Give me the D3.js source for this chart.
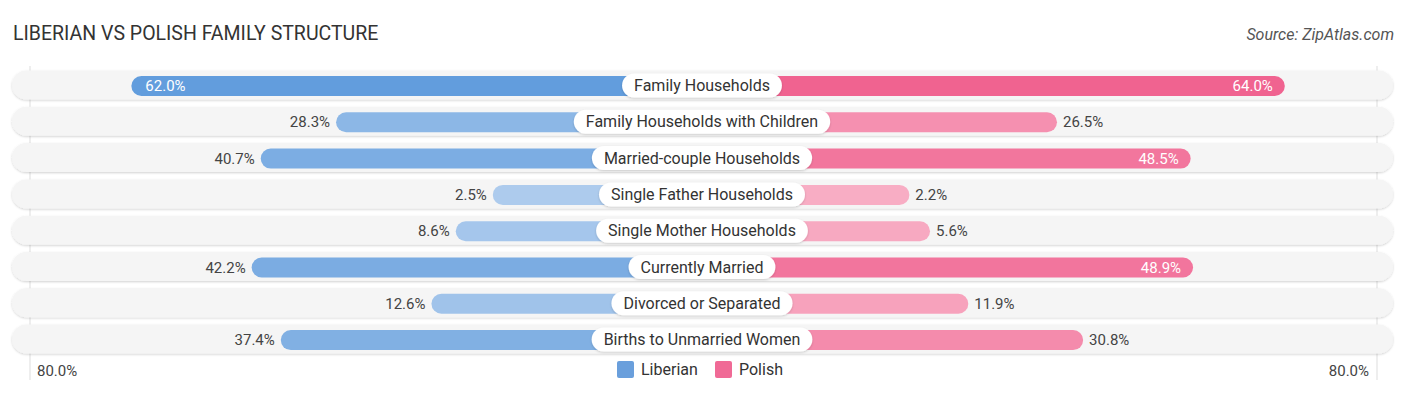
<!DOCTYPE html>
<meta charset="utf-8">
<html>
  <head>
    <style>
      body { margin: 0; background: #fff; font-family: Roboto, "Open Sans", sans-serif; }
      text.title { font-size: 19.5px; fill: #333; }
      text.source { font-size: 16px; fill: #555; font-style: italic; }
      text.val { font-size: 15px; fill: #444; }
      text.val.inside { fill: #fff; }
      text.cat { font-size: 16px; fill: #333; }
      text.axis { font-size: 15px; fill: #444; }
      text.legend { font-size: 16px; fill: #333; }
    </style>
    <script src="https://d3js.org/d3.v7.min.js"></script>
  </head>
  <body>
    <div id="chart"></div>
    <script type="text/javascript">
      var categories = ["Family Households", "Family Households with Children", "Married-couple Households",
                        "Single Father Households", "Single Mother Households", "Currently Married",
                        "Divorced or Separated", "Births to Unmarried Women"],
          liberian = [62.0, 28.3, 40.7, 2.5, 8.6, 42.2, 12.6, 37.4],
          polish = [64.0, 26.5, 48.5, 2.2, 5.6, 48.9, 11.9, 30.8],
          seriesNames = ["Liberian", "Polish"],
          axisMax = 80;

      var width = 1406, height = 395,
          center = 702,
          gap = 194,          // bars run under the label pill to the centre
          barH = 20,
          rowH = 36.3,
          firstRow = 85;

      var svg = d3.select("#chart").append("svg")
          .attr("width", width)
          .attr("height", height);

      var x = d3.scaleLinear().domain([0, axisMax]).range([0, 486]);
      var y = d3.scaleBand().domain(categories)
          .range([firstRow - rowH / 2, firstRow - rowH / 2 + rowH * categories.length]);

      var blue = d3.interpolateRgb("#b0cdee", "#5f9bdc"),
          pink = d3.interpolateRgb("#f8b0c6", "#f06390");

      svg.append("text").attr("class", "title")
          .attr("x", 13).attr("y", 40)
          .text("LIBERIAN VS POLISH FAMILY STRUCTURE");
      svg.append("text").attr("class", "source")
          .attr("x", 1394).attr("y", 40).attr("text-anchor", "end")
          .text("Source: ZipAtlas.com");

      // grid lines at the 80% marks
      [center - gap - x(axisMax) + 8, center + gap + x(axisMax) - 5].forEach(function (gx) {
        svg.append("line")
            .attr("x1", gx).attr("x2", gx)
            .attr("y1", 66).attr("y2", 380)
            .attr("stroke", "#ddd").attr("stroke-width", 1);
      });

      var defs = svg.append("defs");
      var shadow = defs.append("filter").attr("id", "shadow")
          .attr("x", "-5%").attr("y", "-30%").attr("width", "110%").attr("height", "170%");
      shadow.append("feDropShadow").attr("dx", 0).attr("dy", 1)
          .attr("stdDeviation", 1.2).attr("flood-color", "#000").attr("flood-opacity", 0.18);

      var rows = svg.selectAll(".row")
          .data(categories.map(function (c, i) { return { cat: c, l: liberian[i], p: polish[i] }; }))
          .enter().append("g")
            .attr("class", "row")
            .attr("transform", function (d) { return "translate(0," + (y(d.cat) + y.bandwidth() / 2) + ")"; });

      rows.append("rect")
          .attr("x", 12).attr("y", -14.5)
          .attr("width", 1381).attr("height", 29)
          .attr("rx", 14.5)
          .attr("fill", "#f5f5f5")
          .attr("filter", "url(#shadow)");

      var maxV = d3.max(liberian.concat(polish));

      rows.append("rect")
          .attr("x", function (d) { return center - gap - x(d.l); })
          .attr("y", -barH / 2 + 1)
          .attr("width", function (d) { return gap + x(d.l); })
          .attr("height", barH)
          .attr("rx", barH / 2)
          .attr("fill", function (d) { return blue(d.l / maxV); });

      rows.append("rect")
          .attr("x", center)
          .attr("y", -barH / 2 + 1)
          .attr("width", function (d) { return gap + x(d.p); })
          .attr("height", barH)
          .attr("rx", barH / 2)
          .attr("fill", function (d) { return pink(d.p / maxV); });

      var inside = function (v) { return v > 45; };

      rows.append("text")
          .attr("class", function (d) { return inside(d.l) ? "val inside" : "val"; })
          .attr("x", function (d) {
            var end = center - gap - x(d.l);
            return inside(d.l) ? end + 14 : end - 6;
          })
          .attr("y", 6)
          .attr("text-anchor", function (d) { return inside(d.l) ? "start" : "end"; })
          .text(function (d) { return d.l.toFixed(1) + "%"; });

      rows.append("text")
          .attr("class", function (d) { return inside(d.p) ? "val inside" : "val"; })
          .attr("x", function (d) {
            var end = center + gap + x(d.p);
            return inside(d.p) ? end - 12 : end + 6;
          })
          .attr("y", 6)
          .attr("text-anchor", function (d) { return inside(d.p) ? "end" : "start"; })
          .text(function (d) { return d.p.toFixed(1) + "%"; });

      // centre label pills
      rows.each(function (d) {
        var g = d3.select(this);
        var t = g.append("text").attr("class", "cat")
            .attr("x", center).attr("y", 6)
            .attr("text-anchor", "middle")
            .text(d.cat);
        var w = t.node().getComputedTextLength() + 24;
        g.insert("rect", "text.cat")
            .attr("x", center - w / 2).attr("y", -11.5)
            .attr("width", w).attr("height", 24)
            .attr("rx", 12)
            .attr("fill", "#fff")
            .attr("filter", "url(#shadow)");
      });

      // axis end labels
      svg.append("text").attr("class", "axis")
          .attr("x", 37).attr("y", 376)
          .text(axisMax.toFixed(1) + "%");
      svg.append("text").attr("class", "axis")
          .attr("x", 1369).attr("y", 376).attr("text-anchor", "end")
          .text(axisMax.toFixed(1) + "%");

      // legend
      var legend = svg.selectAll(".legend")
          .data(seriesNames)
          .enter().append("g")
            .attr("class", "legend")
            .attr("transform", function (d, i) { return "translate(" + (617 + i * 98) + ",361)"; });
      legend.append("rect")
          .attr("width", 17).attr("height", 17).attr("rx", 2)
          .attr("fill", function (d, i) { return i === 0 ? "#6a9fdc" : "#f06a96"; });
      legend.append("text").attr("class", "legend")
          .attr("x", 24).attr("y", 14)
          .text(function (d) { return d; });
    </script>
  </body>
</html>
